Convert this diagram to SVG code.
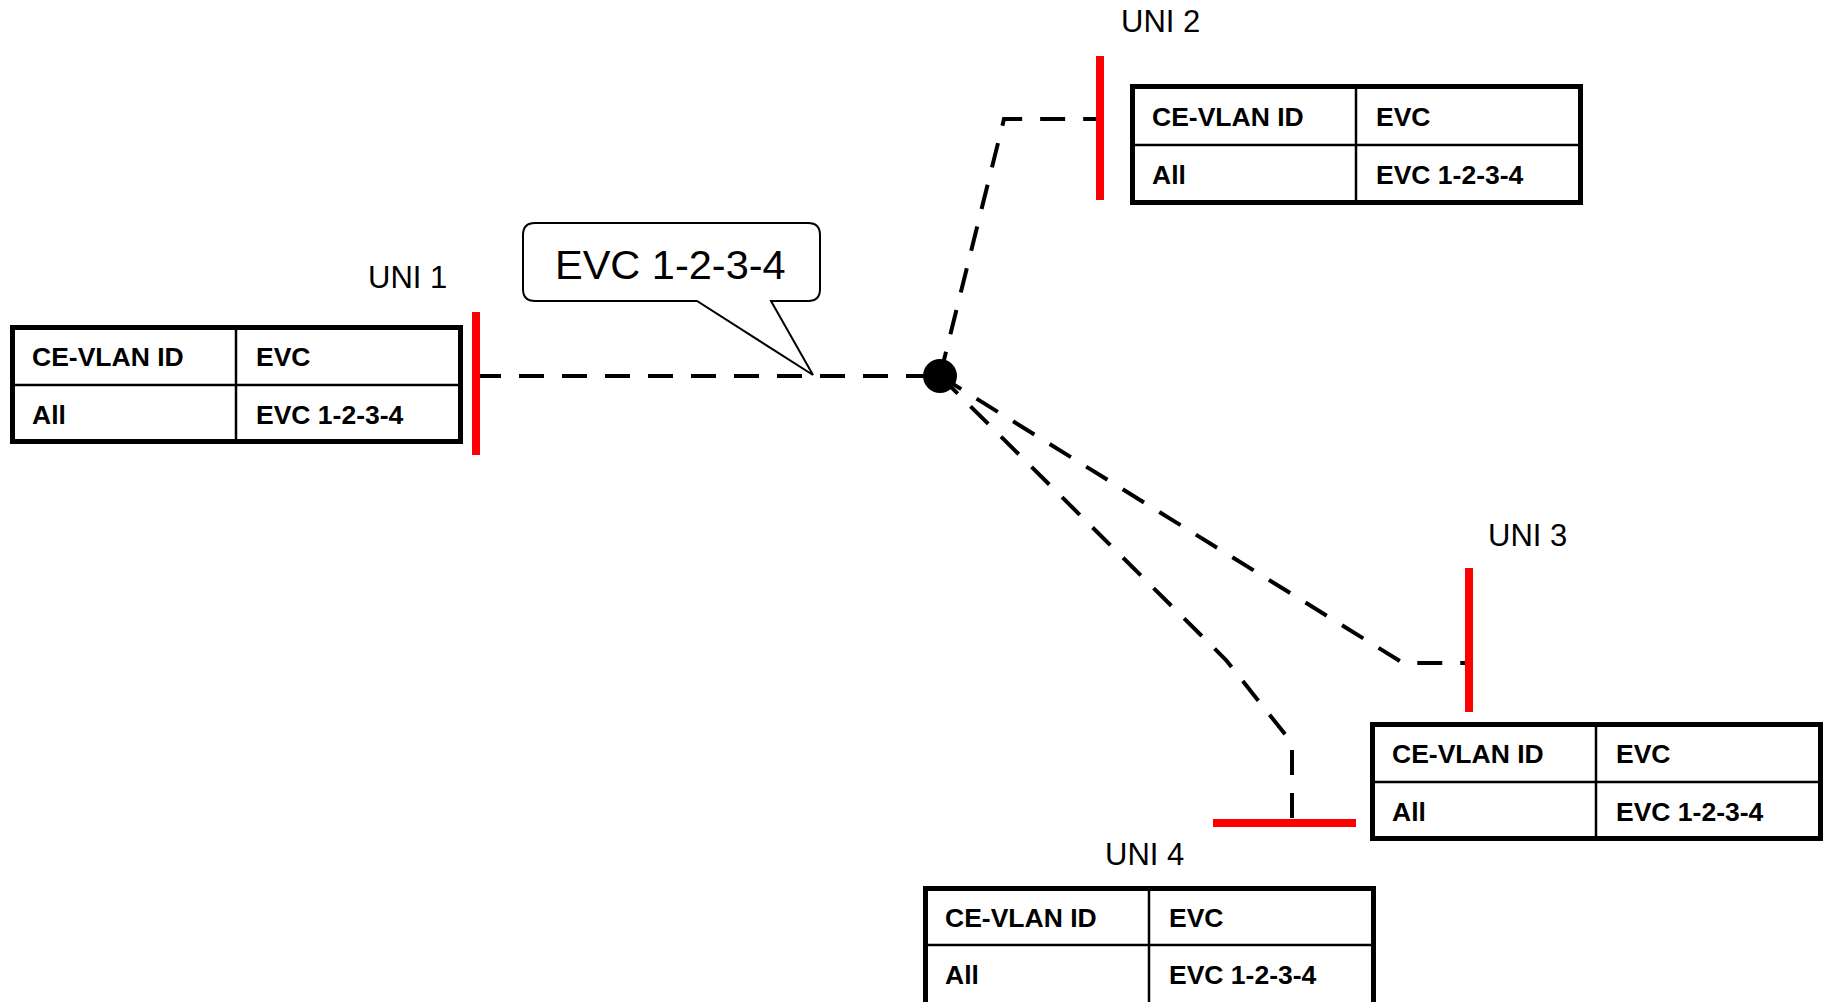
<svg xmlns="http://www.w3.org/2000/svg" width="1825" height="1002" viewBox="0 0 1825 1002">
<style>
.outer{fill:#fff;stroke:#000;stroke-width:5}
.inner{stroke:#000;stroke-width:2.5;fill:none}
.cell{font-family:"Liberation Sans",Arial,sans-serif;font-weight:bold;font-size:26.5px;fill:#000}
.uni{font-family:"Liberation Sans",Arial,sans-serif;font-size:31px;fill:#000}
.bar{stroke:#ff0000;stroke-width:8;fill:none}
.conn{stroke:#000;stroke-width:4;fill:none;stroke-dasharray:25 18}
.callout{fill:#fff;stroke:#000;stroke-width:2}
.ctext{font-family:"Liberation Sans",Arial,sans-serif;font-size:41.5px;fill:#000}
</style>
<rect width="1825" height="1002" fill="#fff"/>
<g id="connectors">
<path class="conn" d="M476,376 H940"/>
<path class="conn" d="M940,376 L1004,119 H1100"/>
<path class="conn" d="M940,376 L1403,663 H1469"/>
<path class="conn" d="M940,376 L1226,660 L1292,743 V823"/>
</g>
<g id="hub"><circle cx="940" cy="376" r="17" fill="#000"/></g>
<g id="callout">
<path class="callout" d="M535,223 H808 Q820,223 820,235 V289 Q820,301 808,301 H771 L813,375 L697,301 H535 Q523,301 523,289 V235 Q523,223 535,223 Z"/>
<text class="ctext" x="555" y="279">EVC 1-2-3-4</text>
</g>
<g id="uni1">
<text class="uni" x="368" y="288">UNI 1</text>
<line class="bar" x1="476" y1="312" x2="476" y2="455"/>
<g transform="translate(10,325)">
<rect class="outer" x="2.5" y="2.5" width="448" height="114"/>
<line class="inner" x1="226" y1="0" x2="226" y2="119"/>
<line class="inner" x1="0" y1="60" x2="453" y2="60"/>
<text class="cell" x="22" y="41">CE-VLAN ID</text>
<text class="cell" x="246" y="41">EVC</text>
<text class="cell" x="22" y="99">All</text>
<text class="cell" x="246" y="99">EVC 1-2-3-4</text>
</g>
</g>
<g id="uni2">
<text class="uni" x="1121" y="32">UNI 2</text>
<line class="bar" x1="1100" y1="56" x2="1100" y2="200"/>
<g transform="translate(1130,84)">
<rect class="outer" x="2.5" y="2.5" width="448" height="116"/>
<line class="inner" x1="226" y1="0" x2="226" y2="121"/>
<line class="inner" x1="0" y1="61" x2="453" y2="61"/>
<text class="cell" x="22" y="42">CE-VLAN ID</text>
<text class="cell" x="246" y="42">EVC</text>
<text class="cell" x="22" y="100">All</text>
<text class="cell" x="246" y="100">EVC 1-2-3-4</text>
</g>
</g>
<g id="uni3">
<text class="uni" x="1488" y="546">UNI 3</text>
<line class="bar" x1="1469" y1="568" x2="1469" y2="712"/>
<g transform="translate(1370,722)">
<rect class="outer" x="2.5" y="2.5" width="448" height="114"/>
<line class="inner" x1="226" y1="0" x2="226" y2="119"/>
<line class="inner" x1="0" y1="60" x2="453" y2="60"/>
<text class="cell" x="22" y="41">CE-VLAN ID</text>
<text class="cell" x="246" y="41">EVC</text>
<text class="cell" x="22" y="99">All</text>
<text class="cell" x="246" y="99">EVC 1-2-3-4</text>
</g>
</g>
<g id="uni4">
<text class="uni" x="1105" y="865">UNI 4</text>
<line class="bar" x1="1213" y1="823" x2="1356" y2="823"/>
<g transform="translate(923,886)">
<rect class="outer" x="2.5" y="2.5" width="448" height="122"/>
<line class="inner" x1="226" y1="0" x2="226" y2="125"/>
<line class="inner" x1="0" y1="59" x2="453" y2="59"/>
<text class="cell" x="22" y="41">CE-VLAN ID</text>
<text class="cell" x="246" y="41">EVC</text>
<text class="cell" x="22" y="98">All</text>
<text class="cell" x="246" y="98">EVC 1-2-3-4</text>
</g>
</g>
</svg>
